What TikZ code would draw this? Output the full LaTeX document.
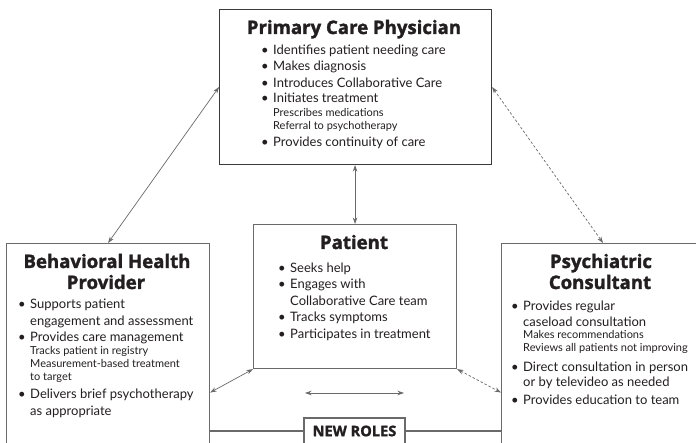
\documentclass[tikz,border=0pt]{standalone}
\usepackage{fontspec}
\setmainfont{Lato}
\newfontfamily\titlefontbase{Open Sans}[BoldFeatures={FakeBold=1.6}]
\newcommand\titlefont{\titlefontbase\bfseries}
\usetikzlibrary{arrows.meta,calc}
\definecolor{txt}{HTML}{231F20}
\definecolor{boxdark}{HTML}{3A3A3A}
\definecolor{boxgray}{HTML}{6A6A6A}
\definecolor{arrgray}{HTML}{6A6A6A}
\newcommand\myitem[4]{\node[body,anchor=base west] (#1) at (#2,#3) {\llap{\textbullet\hspace{4.5pt}}#4};}
\newcommand\mycont[4]{\node[body,anchor=base west] (#1) at (#2,#3) {#4};}
\newcommand\mysub[4]{\node[small,anchor=base west] (#1) at (#2,#3) {#4};}
\tikzset{
  box/.style={draw=boxgray, line width=1.1pt, inner sep=0pt, anchor=north west},
  title/.style={inner sep=0pt, anchor=base, text=txt, font=\titlefont\fontsize{18.6}{22}\selectfont},
  body/.style={inner sep=0pt, text=txt, font=\fontsize{13}{15}\selectfont},
  small/.style={inner sep=0pt, text=txt, font=\fontsize{11}{13}\selectfont},
  arr/.style={draw=arrgray, line width=0.7pt, {Stealth[length=6.5pt,width=4.5pt]}-{Stealth[length=6.5pt,width=4.5pt]}},
  dsh/.style={dash pattern=on 2.5pt off 2pt},
  rule/.style={draw=boxgray, line width=1.1pt}
}
\begin{document}
\begin{tikzpicture}[x=1pt,y=-1pt]
\useasboundingbox (0,0) rectangle (696,443);
\clip (0,0) rectangle (696,443);
\fill[white] (0,0) rectangle (696,443);
% boxes
\node[box, draw=boxdark, minimum width=272pt, minimum height=155pt] (pcp) at (219,9) {};
\node[box, minimum width=203pt, minimum height=298pt] (bhp) at (6,243) {};
\node[box, minimum width=203pt, minimum height=144pt] (pat) at (253,224) {};
\node[box, minimum width=203pt, minimum height=298pt] (pc) at (501,243) {};
\node[draw=boxgray, fill=white, line width=1.1pt, minimum width=101pt, minimum height=26pt, inner sep=0pt, text=txt, font=\titlefont\fontsize{14.6}{17}\selectfont] (nr) at (354.5,431) {NEW ROLES};
% rules to NEW ROLES
\draw[rule] (bhp.east |- nr.west) -- (nr.west);
\draw[rule] (nr.east) -- (pc.west |- nr.east);
% titles
\node[title] (t1) at (354,34) {Primary Care Physician};
\node[title] (t2a) at (107,268) {Behavioral Health};
\node[title] (t2b) at (106,289) {Provider};
\node[title] (t3) at (354,249) {Patient};
\node[title] (t4a) at (601,268) {Psychiatric};
\node[title] (t4b) at (600,289) {Consultant};
% PCP
\myitem{a1}{273}{55}{Identifies patient needing care}
\myitem{a2}{273}{71}{Makes diagnosis}
\myitem{a3}{273}{88}{Introduces Collaborative Care}
\myitem{a4}{273}{103}{Initiates treatment}
\mysub{a5}{273}{117}{Prescribes medications}
\mysub{a6}{273}{130}{Referral to psychotherapy}
\myitem{a7}{273}{147}{Provides continuity of care}
% BHP
\myitem{b1}{30}{309}{Supports patient}
\mycont{b2}{30}{326}{engagement and assessment}
\myitem{b3}{30}{342}{Provides care management}
\mysub{b4}{30}{355}{Tracks patient in registry}
\mysub{b5}{30}{368}{Measurement-based treatment}
\mysub{b6}{30}{381}{to target}
\myitem{b7}{30}{399}{Delivers brief psychotherapy}
\mycont{b8}{30}{415}{as appropriate}
% Patient
\myitem{c1}{290}{273}{Seeks help}
\myitem{c2}{290}{289}{Engages with}
\mycont{c3}{290}{306}{Collaborative Care team}
\myitem{c4}{290}{322}{Tracks symptoms}
\myitem{c5}{290}{339}{Participates in treatment}
% PC
\myitem{d1}{523}{311}{Provides regular}
\mycont{d2}{523}{327}{caseload consultation}
\mysub{d3}{523}{339}{Makes recommendations}
\mysub{d4}{523}{352}{Reviews all patients not improving}
\myitem{d5}{523}{372}{Direct consultation in person}
\mycont{d6}{523}{387}{or by televideo as needed}
\myitem{d7}{523}{404}{Provides education to team}
% connectors
\draw[arr] (pcp.west) -- (bhp.north);
\draw[arr] (pat.north |- pcp.south) -- (pat.north);
\draw[arr, dsh] (pcp.east) -- (pc.north);
\draw[arr] (bhp.east) -- (pat.south west);
\draw[arr, dsh] (pat.south east) -- (pc.west);
\coordinate (h1) at (305,393);
\coordinate (h2) at (404,393);
\draw[arr] (h1) -- (h2);
\end{tikzpicture}
\end{document}
